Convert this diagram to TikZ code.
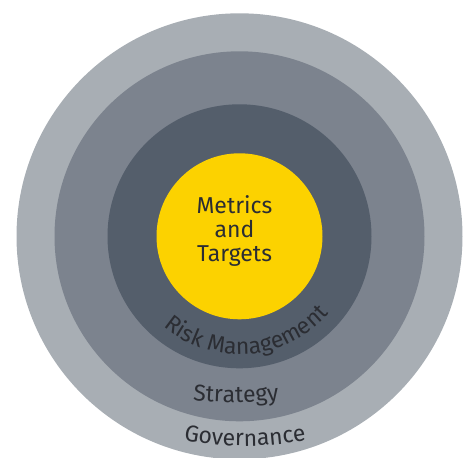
\documentclass[tikz,border=0pt]{standalone}
\usepackage{fontspec}
\setmainfont{Fira Sans}
\usetikzlibrary{decorations.text}
\definecolor{ringOuter}{HTML}{A8AEB4}
\definecolor{ringMid}{HTML}{7C838E}
\definecolor{ringInner}{HTML}{545E6B}
\definecolor{coreYellow}{HTML}{FCD200}
\definecolor{labelInk}{HTML}{2B2D33}
\newcommand{\labelfont}{\fontsize{23}{24}\selectfont}
\begin{document}
\begin{tikzpicture}[x=1pt,y=1pt,
  disc/.style={circle, draw=none, inner sep=0pt, minimum size=#1},
  arclabel/.style={decorate, decoration={text along path, text align=center,
    text color=labelInk, text={|\labelfont|#1}}}]
\useasboundingbox (0,0) rectangle (467,458);
\coordinate (c) at (239.5,221.7);
% four nested discs
\node[disc=446pt, fill=ringOuter] (governance) at (c) {};
\node[disc=370pt, fill=ringMid] (strategy) at (c) {};
\node[disc=264pt, fill=ringInner] (risk) at (c) {};
\node[disc=166pt, fill=coreYellow] (core) at (c) {};
% centre label
\node[align=center, text=labelInk, font=\labelfont, inner sep=0pt] (metrics) at (234.5,227) {Metrics\\and\\Targets};
% ring labels set along arcs
\path[arclabel={Risk Management}] ([shift={(214.4:118)}]c) arc[start angle=214.4, end angle=334.4, radius=118];
\coordinate (sc) at (236,455.7);
\path[arclabel={Strategy}] ([shift={(255:400)}]sc) arc[start angle=255, end angle=285, radius=400];
\coordinate (gc) at (245,332);
\path[arclabel={Governance}] ([shift={(250:320)}]gc) arc[start angle=250, end angle=290, radius=320];
\end{tikzpicture}
\end{document}
